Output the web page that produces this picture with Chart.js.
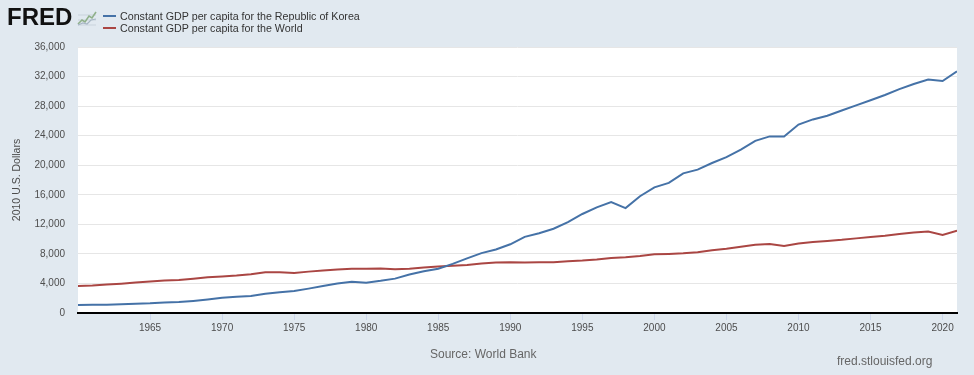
<!DOCTYPE html>
<html>
<head>
<meta charset="utf-8">
<script src="https://cdn.jsdelivr.net/npm/chart.js@4/dist/chart.umd.min.js"></script>
<style>
  body { margin: 0; background: #e1e9f0; font-family: "Liberation Sans", Arial, sans-serif; }
  #wrap { position: relative; width: 974px; height: 375px; }
  #gdpChart { position: absolute; left: 0; top: 0; }
  .logo { position: absolute; left: 7px; top: 3px; font-size: 24px; font-weight: bold; color: #111; letter-spacing: 0px; }
  .icon { position: absolute; left: 77px; top: 10px; }
  .leg { position: absolute; left: 103px; font-size: 10.7px; color: #333; line-height: 12px; }
  .leg span { display: inline-block; width: 13px; height: 2px; margin-right: 4px; vertical-align: middle; position: relative; top: -1px; }
  .src { position: absolute; font-size: 12px; color: #666; }
</style>
</head>
<body>
<div id="wrap">
  <canvas id="gdpChart" width="974" height="375"></canvas>
  <div class="logo">FRED</div>
  <svg class="icon" width="20" height="17" viewBox="0 0 20 17">
    <rect x="0" y="0" width="20" height="17" fill="#e1e9f0"/>
    <path d="M1 15 L19 15 M1 10 L19 10 M1 5 L19 5" stroke="#c9d3dc" stroke-width="1"/>
    <polyline points="1,14 5,10 8,12 12,6 15,8 19,2" fill="none" stroke="#8fb08a" stroke-width="1.6"/>
    <polyline points="1,15 6,13 10,14 14,10 19,9" fill="none" stroke="#a7b6c4" stroke-width="1.2"/>
  </svg>
  <div class="leg" style="top:10px"><span style="background:#4572a7"></span>Constant GDP per capita for the Republic of Korea</div>
  <div class="leg" style="top:22px"><span style="background:#aa4643"></span>Constant GDP per capita for the World</div>
  <div class="src" style="left:430px; top:347px">Source: World Bank</div>
  <div class="src" style="left:837px; top:354px">fred.stlouisfed.org</div>
</div>
<script>
// years on the x axis
const years = [1960, 1961, 1962, 1963, 1964, 1965, 1966, 1967, 1968, 1969,
               1970, 1971, 1972, 1973, 1974, 1975, 1976, 1977, 1978, 1979,
               1980, 1981, 1982, 1983, 1984, 1985, 1986, 1987, 1988, 1989,
               1990, 1991, 1992, 1993, 1994, 1995, 1996, 1997, 1998, 1999,
               2000, 2001, 2002, 2003, 2004, 2005, 2006, 2007, 2008, 2009,
               2010, 2011, 2012, 2013, 2014, 2015, 2016, 2017, 2018, 2019,
               2020, 2021];

// constant GDP per capita, 2010 U.S. dollars
const korea = [1080, 1120, 1130, 1200, 1260, 1310, 1420, 1490, 1640, 1830,
               2050, 2200, 2300, 2600, 2800, 2980, 3300, 3650, 4000, 4240,
               4100, 4350, 4650, 5200, 5650, 6000, 6650, 7400, 8100, 8600,
               9300, 10300, 10800, 11400, 12300, 13400, 14300, 15000, 14200, 15800,
               17000, 17600, 18900, 19400, 20300, 21100, 22100, 23300, 23900, 23900,
               25500, 26200, 26700, 27400, 28100, 28800, 29500, 30300, 31000, 31600,
               31400, 32700];

const world = [3660, 3720, 3850, 3970, 4120, 4250, 4400, 4480, 4650, 4850,
               4950, 5060, 5230, 5500, 5500, 5400, 5600, 5740, 5880, 6000,
               5980, 6010, 5930, 6000, 6170, 6280, 6400, 6500, 6700, 6830,
               6870, 6850, 6880, 6880, 7000, 7100, 7250, 7450, 7550, 7700,
               7950, 8000, 8080, 8220, 8480, 8700, 8980, 9250, 9330, 9080,
               9400, 9600, 9750, 9900, 10100, 10300, 10450, 10680, 10900, 11020,
               10570, 11150];

const xTicks = [1965, 1970, 1975, 1980, 1985, 1990, 1995, 2000, 2005, 2010, 2015, 2020];
const yTicks = [0, 4000, 8000, 12000, 16000, 20000, 24000, 28000, 32000, 36000];

// white plot area
const plotBg = {
    id: "plotBg",
    beforeDraw(chart) {
        const a = chart.chartArea;
        const c = chart.ctx;
        c.save();
        c.fillStyle = "#ffffff";
        c.fillRect(a.left, a.top, a.right - a.left, a.bottom - a.top);
        c.restore();
    }
};

const tickFont = { family: "Liberation Sans", size: 10 };

new Chart(document.getElementById("gdpChart"), {
    type: "line",
    data: {
        datasets: [
            {
                label: "Constant GDP per capita for the Republic of Korea",
                data: years.map((y, i) => ({ x: y, y: korea[i] })),
                borderColor: "#4572a7",
                borderWidth: 2,
                pointRadius: 0,
                tension: 0
            },
            {
                label: "Constant GDP per capita for the World",
                data: years.map((y, i) => ({ x: y, y: world[i] })),
                borderColor: "#aa4643",
                borderWidth: 2,
                pointRadius: 0,
                tension: 0
            }
        ]
    },
    options: {
        responsive: false,
        maintainAspectRatio: false,
        animation: false,
        layout: { padding: { top: 47, right: 17, left: 0, bottom: 0 } },
        plugins: { legend: { display: false }, tooltip: { enabled: false } },
        scales: {
            x: {
                type: "linear",
                min: 1960,
                max: 2021,
                afterBuildTicks: (axis) => { axis.ticks = xTicks.map(v => ({ value: v })); },
                afterFit: (axis) => { axis.height = 62; },
                grid: { drawOnChartArea: false, drawTicks: true, tickLength: 7, color: "#ccd6eb" },
                border: { color: "#000000", width: 2 },
                ticks: { color: "#4d4d4d", font: tickFont, padding: 2, maxRotation: 0, callback: v => String(v) }
            },
            y: {
                min: 0,
                max: 36000,
                afterBuildTicks: (axis) => { axis.ticks = yTicks.map(v => ({ value: v })); },
                afterFit: (axis) => { axis.width = 78; },
                grid: { color: "#e6e6e6", drawTicks: false },
                border: { display: false },
                ticks: { color: "#4d4d4d", font: tickFont, padding: 13, callback: v => v.toLocaleString("en-US") },
                title: {
                    display: true,
                    text: "2010 U.S. Dollars",
                    color: "#4d4d4d",
                    font: { family: "Liberation Sans", size: 10.5 },
                    padding: { top: 11, bottom: 0 }
                }
            }
        }
    },
    plugins: [plotBg]
});
</script>
</body>
</html>
